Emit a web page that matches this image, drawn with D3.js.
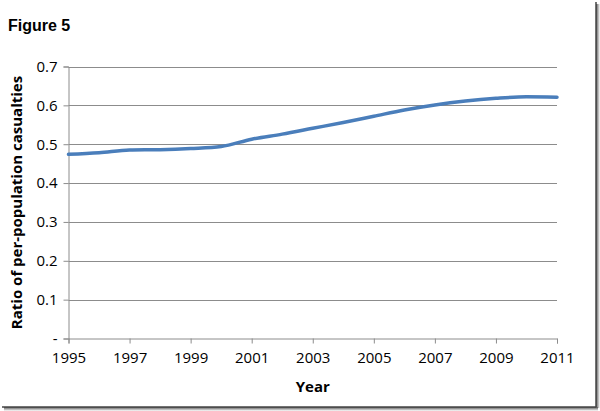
<!DOCTYPE html>
<html><head><meta charset="utf-8">
<script src="https://cdn.jsdelivr.net/npm/d3@7"></script>
<style>
html,body{margin:0;padding:0;background:#fff;}
svg{display:block;}
</style></head>
<body>
<svg id="chart" width="600" height="411"></svg>
<script>
const years = [1995,1996,1997,1998,1999,2000,2001,2002,2003,2004,2005,2006,2007,2008,2009,2010,2011];
const ratios = [0.474,0.478,0.485,0.486,0.489,0.494,0.513,0.526,0.541,0.556,0.572,0.588,0.601,0.611,0.618,0.622,0.621];
const xTicks = [1995,1997,1999,2001,2003,2005,2007,2009,2011];
const yTicks = [0,0.1,0.2,0.3,0.4,0.5,0.6,0.7];
const yTickLabels = ["-","0.1","0.2","0.3","0.4","0.5","0.6","0.7"];
const titleText = "Figure 5";
const xTitle = "Year";
const yTitle = "Ratio of per-population casualties";

const svg = d3.select("#chart");
const font = "'Liberation Sans', Arial, sans-serif";
const labelFont = "'Open Sans', 'DejaVu Sans', sans-serif";

// frame with shadow on right/bottom
const defs = svg.append("defs");
const gradR = defs.append("linearGradient").attr("id","shR").attr("x1","0").attr("x2","1");
gradR.append("stop").attr("offset","0").attr("stop-color","#555");
gradR.append("stop").attr("offset","1").attr("stop-color","#fff");
const gradB = defs.append("linearGradient").attr("id","shB").attr("x1","0").attr("x2","0").attr("y1","0").attr("y2","1");
gradB.append("stop").attr("offset","0").attr("stop-color","#555");
gradB.append("stop").attr("offset","1").attr("stop-color","#fff");
svg.append("rect").attr("x",596).attr("y",4).attr("width",4).attr("height",404).attr("fill","url(#shR)");
svg.append("rect").attr("x",4).attr("y",407).attr("width",594).attr("height",4).attr("fill","url(#shB)");
svg.append("line").attr("x1",596).attr("x2",596).attr("y1",2).attr("y2",407.5).attr("stroke","#444").attr("stroke-width",1.5);
svg.append("line").attr("x1",2).attr("x2",596).attr("y1",407).attr("y2",407).attr("stroke","#444").attr("stroke-width",1.5);

const x = d3.scaleLinear().domain([1995,2011]).range([68.5,557]);
const y = d3.scaleLinear().domain([0,0.7]).range([338.5,66.5]);

// gridlines
svg.append("g").selectAll("line").data(yTicks.filter(d=>d>0)).join("line")
  .attr("x1",x(1995)).attr("x2",x(2011))
  .attr("y1",d=>Math.round(y(d))+0.5).attr("y2",d=>Math.round(y(d))+0.5)
  .attr("stroke","#8c8c8c").attr("stroke-width",1);

// y axis
const yAxis = d3.axisLeft(y).tickValues(yTicks).tickSize(5).tickPadding(6)
  .tickFormat((d,i)=>yTickLabels[i]);
const gy = svg.append("g").attr("transform",`translate(${x(1995)},0)`).call(yAxis);
gy.select(".domain").attr("stroke","#8c8c8c");
gy.selectAll(".tick line").attr("stroke","#8c8c8c");
gy.selectAll(".tick text").attr("font-family",labelFont).attr("font-size",15).attr("fill","#000");

// x axis
const xAxis = d3.axisBottom(x).tickValues(xTicks).tickSize(5).tickPadding(9).tickFormat(d3.format("d"));
const gx = svg.append("g").attr("transform",`translate(0,${y(0)})`).call(xAxis);
gx.select(".domain").attr("stroke","#8c8c8c");
gx.selectAll(".tick line").attr("stroke","#8c8c8c");
gx.selectAll(".tick text").attr("font-family",labelFont).attr("font-size",15).attr("fill","#000");

// line
const line = d3.line().x((d,i)=>x(years[i])).y(d=>y(d)).curve(d3.curveMonotoneX);
svg.append("path").datum(ratios).attr("d",line)
  .attr("fill","none").attr("stroke","#4A7EBB").attr("stroke-width",3.5).attr("stroke-linecap","round");

// titles
svg.append("text").attr("x",8).attr("y",31).text(titleText)
  .attr("font-family",font).attr("font-weight","bold").attr("font-size",16).attr("fill","#000");
svg.append("text").attr("x",(x(1995)+x(2011))/2).attr("y",392).attr("text-anchor","middle").text(xTitle)
  .attr("font-family",labelFont).attr("font-weight","bold").attr("font-size",15).attr("fill","#000");
svg.append("text").attr("transform",`translate(22,${(y(0)+y(0.7))/2}) rotate(-90)`).attr("text-anchor","middle").text(yTitle)
  .attr("font-family",labelFont).attr("font-weight","bold").attr("font-size",15).attr("fill","#000");
</script>
</body></html>
